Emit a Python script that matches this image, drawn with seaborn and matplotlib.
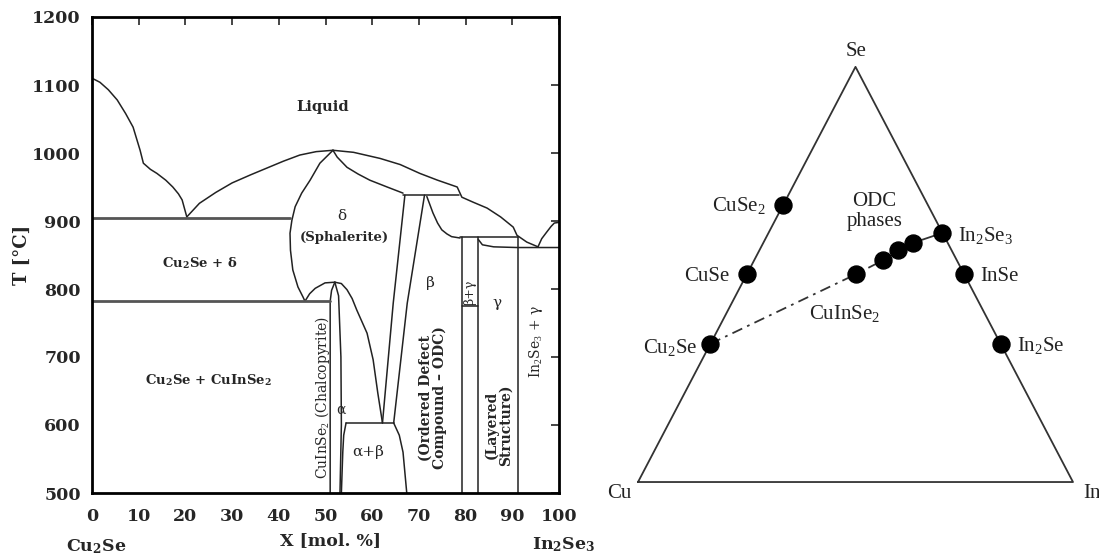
import numpy as np
import pandas as pd
import matplotlib
matplotlib.use('Agg')
import matplotlib.pyplot as plt
import seaborn as sns

# ---- Cu2Se - In2Se3 pseudo-binary phase diagram (x = mol % In2Se3, T in C) ----
liq_left_x = [0, 1.7, 3.5, 5.4, 7.2, 8.8, 10.3, 11, 12.5, 13.9, 15.8, 17.3, 18.5, 19.3, 20.3]
liq_left_t = [1110, 1104, 1093, 1078, 1058, 1038, 1004, 985, 976, 970, 960, 950, 940, 931, 906]
liq_mid_x = [20.3, 23, 26.5, 30, 34, 37.5, 41, 44.5, 48, 51.6]
liq_mid_t = [906, 926, 942, 956, 968, 978, 988, 997, 1002, 1004]
liq_right_x = [51.6, 56, 61.7, 66, 70.2, 74, 78.2, 79.2, 81.5, 84.6, 87.5, 90.2, 91, 93.1, 95.5]
liq_right_t = [1004, 1001, 992, 983, 970, 960, 950, 935, 928, 919, 906, 891, 879, 869, 862]
liq_in2se3_x = [95.5, 96.3, 97.4, 98.3, 99, 100]
liq_in2se3_t = [862, 874, 884, 892, 897, 898]
delta_sol_x = [51.6, 52.5, 54.6, 57, 59.5, 63.2, 66.6]
delta_sol_t = [1004, 994, 979, 969, 960, 950, 941]
delta_left_x = [51.6, 48.8, 46.7, 44.9, 43.5, 42.8, 42.4, 42.5, 43.0, 44.1, 45.2, 45.6]
delta_left_t = [1004, 985, 960, 941, 921, 901, 882, 857, 828, 803, 788, 782]
delta_low_x = [45.6, 46.6, 47.8, 49.9, 52]
delta_low_t = [782, 793, 801, 809, 810]
alpha_solvus_x = [52, 53.4, 54.6, 55.7, 56.7, 58.9, 60.2, 61.2, 62.2]
alpha_solvus_t = [810, 808, 799, 786, 769, 735, 696, 647, 603]
alpha_left_x = [52, 51.3, 51, 51]
alpha_left_t = [810, 798, 782, 500]
alpha_right_x = [52, 52.8, 53.3, 53.4, 53.1]
alpha_right_t = [810, 790, 700, 600, 500]
beta_left_x = [67, 64.5, 62.2]
beta_left_t = [938, 779, 603]
beta_right_x = [71.2, 67.5, 64.6]
beta_right_t = [938, 779, 603]
beta_liq_x = [71.7, 72.3, 73, 74, 74.9, 76, 77, 78.8]
beta_liq_t = [936, 925, 912, 897, 887, 881, 877, 875]
ab_top_x = [54.4, 64.6]
ab_top_t = [603, 603]
ab_left_x = [54.4, 53.9, 53.7, 53.4]
ab_left_t = [603, 585, 560, 500]
ab_right_x = [64.6, 65.8, 66.6, 67.4]
ab_right_t = [603, 585, 560, 500]
perit_x = [66.6, 78.5]
perit_t = [938, 938]
line875_x = [78.8, 91.2]
line875_t = [876, 876]
gamma_top_x = [82.7, 83.6, 86, 91, 95.5, 100]
gamma_top_t = [873, 865, 862, 861, 861, 861]
bg_left_x = [79.2, 79.2]
bg_left_t = [876, 500]
bg_right_x = [82.7, 82.7]
bg_right_t = [876, 500]
bg_bottom_x = [79.2, 82.7]
bg_bottom_t = [775, 775]
gamma_right_x = [91.2, 91.2]
gamma_right_t = [876, 500]
eut_x = [0, 42.4]
eut_t = [905, 905]
eutd_x = [0, 51]
eutd_t = [782, 782]

# ---- Cu-In-Se ternary (atomic fractions Cu, In, Se) ----
phase_names = ['Cu$_2$Se', 'CuSe', 'CuSe$_2$', 'In$_2$Se$_3$', 'InSe', 'In$_2$Se', 'CuInSe$_2$']
phase_cu = [0.667, 0.5, 0.333, 0.0, 0.0, 0.0, 0.25]
phase_in = [0.0, 0.0, 0.0, 0.4, 0.5, 0.667, 0.25]
phase_se = [0.333, 0.5, 0.667, 0.6, 0.5, 0.333, 0.5]
odc_cu = [0.170, 0.123, 0.080]
odc_in = [0.296, 0.318, 0.344]
odc_se = [0.534, 0.559, 0.576]


def tern_xy(cu, inn, se):
    cu, inn, se = np.asarray(cu), np.asarray(inn), np.asarray(se)
    return inn + se / 2, se


sns.set_style('white')
plt.rcParams['font.family'] = ['DejaVu Serif']
plt.rcParams['mathtext.fontset'] = 'custom'
plt.rcParams['mathtext.rm'] = 'Liberation Serif'
plt.rcParams['mathtext.it'] = 'Liberation Serif:italic'
plt.rcParams['mathtext.bf'] = 'DejaVu Serif:bold'

fig = plt.figure(figsize=(10.99, 5.58), dpi=100)
ax = fig.add_axes([92 / 1099, 1 - 493 / 558, 467 / 1099, 476 / 558])

segs = {
    'liq_left': (liq_left_x, liq_left_t), 'liq_mid': (liq_mid_x, liq_mid_t),
    'liq_right': (liq_right_x, liq_right_t), 'liq_in2se3': (liq_in2se3_x, liq_in2se3_t),
    'delta_sol': (delta_sol_x, delta_sol_t), 'delta_left': (delta_left_x, delta_left_t),
    'delta_low': (delta_low_x, delta_low_t), 'alpha_solvus': (alpha_solvus_x, alpha_solvus_t),
    'alpha_left': (alpha_left_x, alpha_left_t), 'alpha_right': (alpha_right_x, alpha_right_t),
    'beta_left': (beta_left_x, beta_left_t), 'beta_right': (beta_right_x, beta_right_t),
    'beta_liq': (beta_liq_x, beta_liq_t), 'ab_top': (ab_top_x, ab_top_t),
    'ab_left': (ab_left_x, ab_left_t), 'ab_right': (ab_right_x, ab_right_t),
    'perit': (perit_x, perit_t), 'line875': (line875_x, line875_t),
    'gamma_top': (gamma_top_x, gamma_top_t), 'bg_left': (bg_left_x, bg_left_t),
    'bg_right': (bg_right_x, bg_right_t), 'bg_bottom': (bg_bottom_x, bg_bottom_t),
    'gamma_right': (gamma_right_x, gamma_right_t),
}
df = pd.concat([pd.DataFrame({'x': v[0], 'T': v[1], 'seg': k}) for k, v in segs.items()])
sns.lineplot(data=df, x='x', y='T', units='seg', estimator=None, sort=False,
             color='#222222', lw=1.1, ax=ax, legend=False)

df_h = pd.concat([pd.DataFrame({'x': eut_x, 'T': eut_t, 'seg': 'e'}),
                  pd.DataFrame({'x': eutd_x, 'T': eutd_t, 'seg': 'ed'})])
sns.lineplot(data=df_h, x='x', y='T', units='seg', estimator=None, sort=False,
             color='#555555', lw=2.0, ax=ax, legend=False)

ax.set_xlim(0, 100)
ax.set_ylim(500, 1200)
ax.set_xticks(range(0, 101, 10))
ax.set_yticks(range(500, 1201, 100))
for sp in ax.spines.values():
    sp.set_linewidth(2.0)
    sp.set_color('black')
ax.tick_params(axis='both', direction='in', length=6, width=1.2, top=True, right=True,
               labelsize=12.5)
ax.tick_params(axis='x', pad=11)
ax.tick_params(axis='y', pad=8)
for lab in ax.get_xticklabels() + ax.get_yticklabels():
    lab.set_fontweight('bold')
ax.set_xlabel('')
ax.set_ylabel('T [°C]', fontsize=13, fontweight='bold', labelpad=1)

tx = ax.get_xaxis_transform()
ax.text(0.8, -0.113, r'Cu$_\mathbf{2}$Se', transform=tx, ha='center', va='center',
        fontsize=12.5, fontweight='bold', clip_on=False)
ax.text(51, -0.099, 'X [mol. %]', transform=tx, ha='center', va='center',
        fontsize=12.5, fontweight='bold', clip_on=False)
ax.text(101, -0.109, r'In$_\mathbf{2}$Se$_\mathbf{3}$', transform=tx, ha='center', va='center',
        fontsize=12.5, fontweight='bold', clip_on=False)

bold = dict(ha='center', va='center', fontsize=9.5, fontweight='bold')
reg = dict(ha='center', va='center', fontsize=11)
ax.text(49.5, 1068, 'Liquid', ha='center', va='center', fontsize=10.5, fontweight='bold')
ax.text(23, 838, r'Cu$_\mathbf{2}$Se + δ', **bold)
ax.text(25, 666, r'Cu$_\mathbf{2}$Se + CuInSe$_\mathbf{2}$', **bold)
ax.text(53.5, 908, 'δ', **reg)
ax.text(54, 876, '(Sphalerite)', **bold)
ax.text(72.4, 809, 'β', **reg)
ax.text(86.7, 779, 'γ', **reg)
ax.text(53.2, 622, 'α', ha='center', va='center', fontsize=10)
ax.text(59.1, 560, 'α+β', **reg)
ax.text(80.95, 795, 'β+γ', rotation=90, ha='center', va='center', fontsize=9)
ax.text(49.4, 641, 'CuInSe$_2$ (Chalcopyrite)', rotation=90, ha='center', va='center',
        fontsize=10)
ax.text(72.9, 640, '(Ordered Defect\nCompound – ODC)', rotation=90, ha='center',
        va='center', fontsize=10, fontweight='bold', linespacing=1.0)
ax.text(87.0, 600, '(Layered\nStructure)', rotation=90, ha='center', va='center',
        fontsize=10, fontweight='bold', linespacing=1.0)
ax.text(95.0, 722, 'In$_2$Se$_3$ + γ', rotation=90, ha='center', va='center', fontsize=10)

# ---- ternary ----
ax2 = fig.add_axes([600 / 1099, 0, 499 / 1099, 1])
ax2.set_xlim(-0.0874, 1.0598)
ax2.set_ylim(-0.183, 1.161)
ax2.axis('off')

tri_x, tri_y = tern_xy([1, 0, 0, 1], [0, 1, 0, 0], [0, 0, 1, 0])
sns.lineplot(x=tri_x, y=tri_y, sort=False, estimator=None, color='#333333', lw=1.3, ax=ax2)

px, py = tern_xy(phase_cu, phase_in, phase_se)
ox, oy = tern_xy(odc_cu, odc_in, odc_se)
# tie line Cu2Se - CuInSe2 - In2Se3
sns.lineplot(x=[px[0], px[6]], y=[py[0], py[6]], sort=False, estimator=None,
             color='#333333', lw=1.3, ax=ax2, linestyle=(0, (6, 3, 1.5, 3)))
sns.lineplot(x=[px[6], ox[0]], y=[py[6], oy[0]], sort=False, estimator=None,
             color='#333333', lw=1.3, ax=ax2, linestyle=(0, (5, 3)))
sns.lineplot(x=[ox[-1], px[3]], y=[oy[-1], py[3]], sort=False, estimator=None,
             color='#333333', lw=1.3, ax=ax2)
sns.scatterplot(x=np.r_[px, ox], y=np.r_[py, oy], s=150, color='black',
                edgecolor='black', ax=ax2, zorder=5)

tf = dict(fontsize=15, family='Liberation Serif', color='#222222')
ax2.text(0.501, 1.036, 'Se', ha='center', va='center', **tf)
ax2.text(-0.044, -0.027, 'Cu', ha='center', va='center', **tf)
ax2.text(1.023, -0.027, 'In', ha='left', va='center', **tf)
lab_x = [0.138, 0.209, 0.294, 0.736, 0.786, 0.871]
lab_y = [0.325, 0.494, 0.667, 0.593, 0.496, 0.328]
lab_ha = ['right', 'right', 'right', 'left', 'left', 'left']
for name, lx, ly, ha in zip(phase_names[:6], lab_x, lab_y, lab_ha):
    ax2.text(lx, ly, name, ha=ha, va='center', **tf)
ax2.text(0.476, 0.407, phase_names[6], ha='center', va='center', **tf)
ax2.text(0.543, 0.652, 'ODC\nphases', ha='center', va='center', linespacing=1.1, **tf)

fig.savefig('out.png', dpi=100)
